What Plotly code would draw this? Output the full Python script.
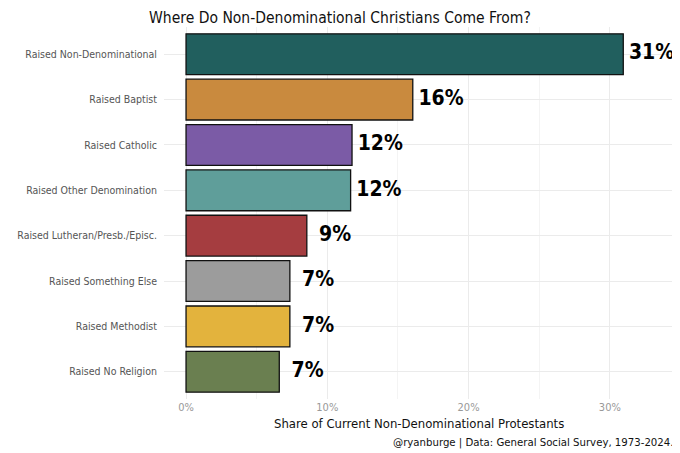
import plotly.graph_objects as go

# data (share of current non-denominational protestants, %)
groups = ['Raised Non-Denominational', 'Raised Baptist', 'Raised Catholic',
          'Raised Other Denomination', 'Raised Lutheran/Presb./Episc.',
          'Raised Something Else', 'Raised Methodist', 'Raised No Religion']
shares = [30.95, 16.05, 11.75, 11.65, 8.55, 7.35, 7.35, 6.6]
bar_colors = ['#215f5e', '#c98a3e', '#7b5ba6', '#5f9e9a', '#a53d40',
              '#9c9c9c', '#e3b33d', '#6a7f50']
xticks = [0, 10, 20, 30]
xtick_text = ['0%', '10%', '20%', '30%']

FONT = "DejaVu Sans Condensed, sans-serif"

labels = [f"{round(v)}%" for v in shares]

fig = go.Figure()
fig.add_trace(go.Bar(
    x=shares, y=groups, orientation='h', width=0.9,
    marker=dict(color=bar_colors, line=dict(color='#111111', width=1.3)),
    hoverinfo='skip'))
# value labels to the right of each bar
fig.add_trace(go.Scatter(
    x=[v + 2 for v in shares], y=groups, mode='text', text=labels,
    textposition='middle center', cliponaxis=False,
    textfont=dict(family=FONT, size=21, color='#000000', weight='bold'),
    hoverinfo='skip'))

# page body has an 8px margin, so the figure is 8px smaller than the window
fig.update_layout(
    width=672, height=445,
    margin=dict(l=156, r=7, t=19, b=54),
    paper_bgcolor='white', plot_bgcolor='white',
    showlegend=False,
    font=dict(family=FONT, color='#555555'),
    title=dict(text='Where Do Non-Denominational Christians Come From?',
               x=0.494, xanchor='center', y=0.979, yanchor='middle',
               font=dict(family=FONT, size=15.5, color='#111111')),
)
fig.update_xaxes(range=[-1.56, 34.47], tickvals=xticks, ticktext=xtick_text,
                 showgrid=True, gridcolor='#ebebeb', gridwidth=1,
                 minor=dict(dtick=5, showgrid=True, gridcolor='#f4f4f4', gridwidth=1),
                 zeroline=False, showline=False, ticks='', automargin=False,
                 tickfont=dict(size=11, color='#999999'))
fig.update_yaxes(autorange=False, range=[7.6, -0.6], categoryorder='array',
                 categoryarray=groups,
                 showgrid=True, gridcolor='#ebebeb', gridwidth=1,
                 zeroline=False, showline=False, ticks='', ticklabelstandoff=6,
                 automargin=False,
                 tickfont=dict(size=10.5, color='#555555'))

# axis title and caption placed below the panel
fig.add_annotation(text='Share of Current Non-Denominational Protestants',
                   xref='paper', yref='paper', x=0.5, y=-0.065,
                   xanchor='center', yanchor='middle', showarrow=False,
                   font=dict(family=FONT, size=13, color='#111111'))
fig.add_annotation(text='@ryanburge | Data: General Social Survey, 1973-2024.',
                   xref='paper', yref='paper', x=1.004, y=-0.116,
                   xanchor='right', yanchor='middle', showarrow=False,
                   font=dict(family=FONT, size=11.3, color='#111111'))

fig.write_html("out.html")
